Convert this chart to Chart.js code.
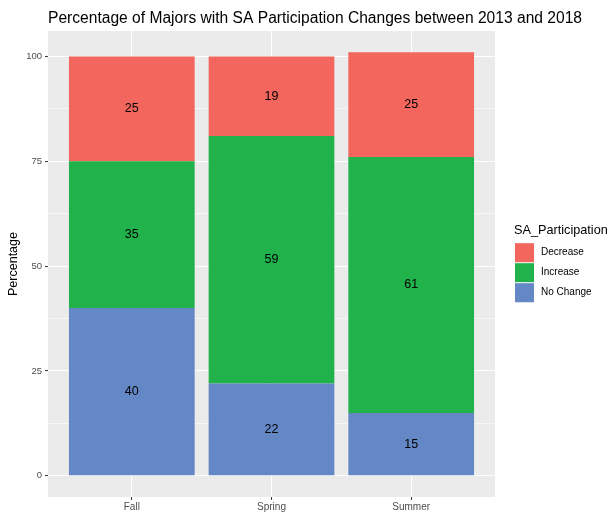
<!DOCTYPE html>
<html>
<head>
<meta charset="utf-8">
<script src="https://cdn.jsdelivr.net/npm/chart.js@4/dist/chart.umd.min.js"></script>
<style>
  html, body { margin: 0; padding: 0; background: #fff; }
  #wrap { width: 610px; height: 513px; }
</style>
</head>
<body>
<div id="wrap"><canvas id="chart" width="610" height="513"></canvas></div>
<script>
// data
const seasons = ['Fall', 'Spring', 'Summer'];
const noChange = [40, 22, 15];
const increase = [35, 59, 61];
const decrease = [25, 19, 25];
const yTicks = [0, 25, 50, 75, 100];
const legendTitle = 'SA_Participation';
const chartTitle = 'Percentage of Majors with SA Participation Changes between 2013 and 2018';

const FONT = '"Liberation Sans", Arial, Helvetica, sans-serif';

function pts(arr) {
    return arr.map((v, i) => ({ x: i + 1, y: v }));
}

// minor grid lines halfway between major ones
const minorTicks = yTicks.slice(1).map((v, i) => (v + yTicks[i]) / 2);

// grey panel, ggplot style
const panelBg = {
    id: 'panelBg',
    beforeDraw(chart) {
        const a = chart.chartArea;
        const ctx = chart.ctx;
        ctx.save();
        ctx.fillStyle = '#EBEBEB';
        ctx.fillRect(a.left, a.top, a.right - a.left, a.bottom - a.top);
        ctx.restore();
    }
};

// value labels in the middle of each segment, plus title and legend
const extras = {
    id: 'extras',
    afterDatasetsDraw(chart) {
        const ctx = chart.ctx;
        ctx.save();
        ctx.font = '12.5px ' + FONT;
        ctx.fillStyle = '#000';
        ctx.textAlign = 'center';
        ctx.textBaseline = 'middle';
        chart.data.datasets.forEach((ds, di) => {
            chart.getDatasetMeta(di).data.forEach((el, i) => {
                ctx.fillText(ds.data[i].y, el.x, (el.y + el.base) / 2);
            });
        });
        ctx.restore();
    },
    afterDraw(chart) {
        const ctx = chart.ctx;
        const a = chart.chartArea;
        ctx.save();
        // title
        ctx.font = '15.6px ' + FONT;
        ctx.fillStyle = '#000';
        ctx.textAlign = 'left';
        ctx.textBaseline = 'alphabetic';
        ctx.fillText(chartTitle, a.left, 23);

        // legend
        const lx = 514, ly = 242.7;
        ctx.font = '12.7px ' + FONT;
        ctx.textBaseline = 'middle';
        ctx.fillText(legendTitle, lx, 230);
        const items = chart.data.datasets.slice().reverse();
        ctx.font = '10px ' + FONT;
        items.forEach((ds, i) => {
            const y = ly + i * 20;
            ctx.fillStyle = '#F2F2F2';
            ctx.fillRect(lx + 1, y, 19, 20);
            ctx.fillStyle = ds.backgroundColor;
            ctx.fillRect(lx + 1, y + 0.5, 19, 19);
            ctx.fillStyle = '#000';
            ctx.fillText(ds.label, lx + 27, y + 10);
        });
        ctx.restore();
    }
};

new Chart(document.getElementById('chart'), {
    type: 'bar',
    data: {
        datasets: [
            { label: 'No Change', data: pts(noChange), backgroundColor: '#6488C6' },
            { label: 'Increase', data: pts(increase), backgroundColor: '#21B24B' },
            { label: 'Decrease', data: pts(decrease), backgroundColor: '#F2665E' }
        ]
    },
    options: {
        responsive: false,
        animation: false,
        layout: { padding: { left: 0, top: 31, right: 115, bottom: 0 } },
        datasets: {
            bar: { barPercentage: 0.9, categoryPercentage: 1, borderWidth: 0 }
        },
        plugins: {
            legend: { display: false },
            title: { display: false },
            tooltip: { enabled: false }
        },
        scales: {
            x: {
                type: 'linear',
                stacked: true,
                offset: false,
                min: 0.4,
                max: 3.6,
                afterBuildTicks: s => { s.ticks = seasons.map((c, i) => ({ value: i + 1 })); },
                afterFit: s => { s.height = 16; },
                border: { display: false },
                grid: {
                    offset: false,
                    color: '#FFFFFF',
                    lineWidth: 1.1,
                    tickLength: 3,
                    tickColor: '#333333',
                    tickWidth: 1
                },
                ticks: {
                    padding: 1,
                    color: '#4D4D4D',
                    font: { family: FONT, size: 10 },
                    callback: v => seasons[v - 1]
                }
            },
            y: {
                stacked: true,
                min: -5.05,
                max: 106.05,
                afterBuildTicks: s => {
                    s.ticks = yTicks.concat(minorTicks).sort((p, q) => p - q).map(v => ({ value: v }));
                },
                afterFit: s => { s.width = 48; },
                border: { display: false },
                grid: {
                    color: '#FFFFFF',
                    lineWidth: c => yTicks.includes(c.tick.value) ? 1.1 : 0.55,
                    tickLength: 3,
                    tickColor: c => yTicks.includes(c.tick.value) ? '#333333' : 'rgba(0,0,0,0)',
                    tickWidth: 1
                },
                ticks: {
                    padding: 3,
                    color: '#4D4D4D',
                    font: { family: FONT, size: 9.5 },
                    callback: v => yTicks.includes(v) ? v : ''
                },
                title: {
                    display: true,
                    text: 'Percentage',
                    color: '#000',
                    font: { family: FONT, size: 12.5 },
                    padding: { top: 6, bottom: 0 }
                }
            }
        }
    },
    plugins: [panelBg, extras]
});
</script>
</body>
</html>
